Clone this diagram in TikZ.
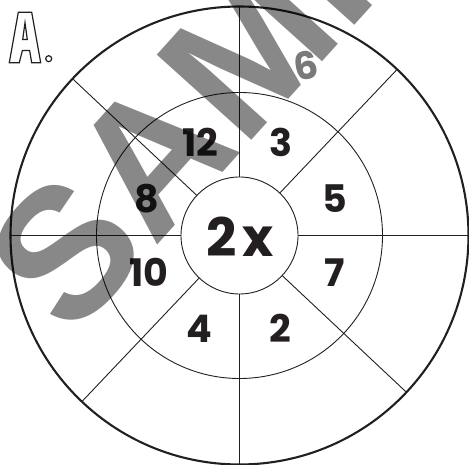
\documentclass[tikz,border=0pt]{standalone}
\usepackage{fontspec}
\newfontfamily\numfont{Poppins}
\newfontfamily\wmfont{Liberation Sans}
\usetikzlibrary{calc}
\definecolor{wmgray}{HTML}{888888}
\definecolor{ghost}{HTML}{7A7A7A}
\definecolor{ink}{HTML}{231F20}
\tikzset{
  num/.style={font=\numfont\bfseries\fontsize{38}{38}\selectfont, text=ink, inner sep=0pt, anchor=base},
  big/.style={font=\numfont\bfseries\fontsize{53}{53}\selectfont, text=ink, inner sep=0pt, anchor=base},
  thin/.style={draw=ink, line width=0.9pt},
  thick/.style={draw=ink, line width=2.1pt},
}
\begin{document}
\begin{tikzpicture}[x=1pt,y=1pt]
\useasboundingbox (0,0) rectangle (469,-465);
\coordinate (C) at (239.5,-235.5);
% ghost number
\node[num, text=ghost, rotate=10] (n6) at (308,-79) {6};
% circles
\draw[thick] (C) circle (229);
\draw[thin] (C) circle (143);
\draw[thin, fill=white] (C) circle (58.5);
% spokes
\foreach \a in {0,90,180,270,46.5,136.8,226.5,316.8}{
  \draw[thin] ($(C)+(\a:58.5)$) -- ($(C)+(\a:229)$);
}
% numbers
\node[num] (n12) at (200.5,-157) {12};
\node[num] (n3) at (281,-157) {3};
\node[num] (n8) at (147,-213) {8};
\node[num] (n5) at (334.5,-213) {5};
\node[num] (n10) at (149,-287) {10};
\node[num] (n7) at (335,-287) {7};
\node[num] (n4) at (199,-342) {4};
\node[num] (n2) at (280,-342) {2};
\node[big] (n2x) at (240,-257) {2\hspace{6pt}x};
% outlined A.
\draw[draw=ink, line width=1.2pt, fill=white, even odd rule]
  (18.3,-12.3) -- (31.7,-12.3) -- (40.7,-62.7) -- (31.7,-62.7) -- (29.6,-50.5) -- (22.4,-50.5) -- (19.3,-62.7) -- (9.3,-62.7) -- cycle
  (25,-22.7) -- (27.3,-39.5) -- (22.7,-39.5) -- cycle;
\draw[draw=ink, line width=1.2pt] (48.7,-58.7) circle (3);
% watermark
\begin{scope}[blend mode=multiply]
\node[font=\wmfont\bfseries\fontsize{185}{185}\selectfont, text=wmgray, inner sep=0pt, anchor=base west, rotate=48] (wm) at (71.8,-340.3) {SAMPLE};
\end{scope}
\end{tikzpicture}
\end{document}
